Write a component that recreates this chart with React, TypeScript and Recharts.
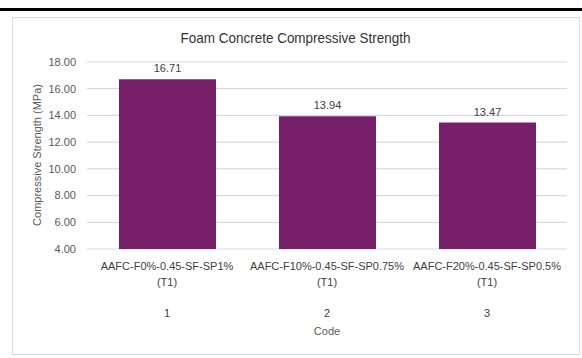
import { Bar, BarChart, CartesianGrid, LabelList, XAxis, YAxis } from 'recharts';

const codes = ['1', '2', '3'];
const mixNames = ['AAFC-F0%-0.45-SF-SP1%', 'AAFC-F10%-0.45-SF-SP0.75%', 'AAFC-F20%-0.45-SF-SP0.5%'];
const testGroups = ['(T1)', '(T1)', '(T1)'];
const strength = [16.71, 13.94, 13.47];
const yTicks = [4, 6, 8, 10, 12, 14, 16, 18];

const data = codes.map((code, i) => ({
  code,
  name: mixNames[i],
  group: testGroups[i],
  strength: strength[i],
}));

const FONT = '"Liberation Sans", Arial, sans-serif';
const BAR_COLOR = '#772069';

// three-level category label: mix name, test group, code number
function CategoryTick({ x, y, payload, index }: any) {
  const d = data[index ?? 0] ?? data.find((r) => r.code === payload.value);
  return (
    <g fontFamily={FONT} fontSize={11} fill="#404040" textAnchor="middle">
      <text x={x} y={y + 13}>{d.name}</text>
      <text x={x} y={y + 29}>{d.group}</text>
      <text x={x} y={y + 60}>{d.code}</text>
    </g>
  );
}

export default function App() {
  return (
    <div style={{ position: 'absolute', left: 0, top: 0, width: 582, height: 358, background: '#fff' }}>
      <div style={{ position: 'absolute', left: 0, top: 8, width: 582, height: 2.5, background: '#000' }} />
      <div
        style={{
          position: 'absolute',
          left: 12,
          top: 17,
          width: 566,
          height: 336,
          border: '1px solid #d9d9d9',
        }}
      />
      <div style={{ position: 'absolute', left: 0, top: 0 }}>
        <BarChart
          width={582}
          height={358}
          data={data}
          margin={{ top: 62, right: 15, bottom: 79, left: 37 }}
        >
          <text
            x={295.5}
            y={43}
            textAnchor="middle"
            fontFamily={FONT}
            fontSize={15}
            textLength={230}
            lengthAdjust="spacingAndGlyphs"
            fill="#333"
          >
            Foam Concrete Compressive Strength
          </text>
          <text
            x={0}
            y={0}
            transform="translate(41 155) rotate(-90)"
            textAnchor="middle"
            fontFamily={FONT}
            fontSize={11}
            fill="#595959"
          >
            Compressive Strength (MPa)
          </text>
          <text x={327} y={335} textAnchor="middle" fontFamily={FONT} fontSize={11} fill="#595959">
            Code
          </text>
          <CartesianGrid vertical={false} stroke="#d9d9d9" strokeWidth={1.2} />
          <XAxis
            dataKey="code"
            axisLine={false}
            tickLine={false}
            interval={0}
            tick={<CategoryTick />}
          />
          <YAxis
            width={50}
            domain={[4, 18]}
            ticks={yTicks}
            axisLine={false}
            tickLine={false}
            tickMargin={5}
            tickFormatter={(v: number) => v.toFixed(2)}
            tick={{ fontFamily: FONT, fontSize: 11, fill: '#595959' }}
          />
          <Bar dataKey="strength" fill={BAR_COLOR} barSize={97} isAnimationActive={false}>
            <LabelList
              dataKey="strength"
              position="top"
              offset={7}
              formatter={(v: number) => v.toFixed(2)}
              style={{ fontFamily: FONT, fontSize: 11, fill: '#404040' }}
            />
          </Bar>
        </BarChart>
      </div>
    </div>
  );
}
